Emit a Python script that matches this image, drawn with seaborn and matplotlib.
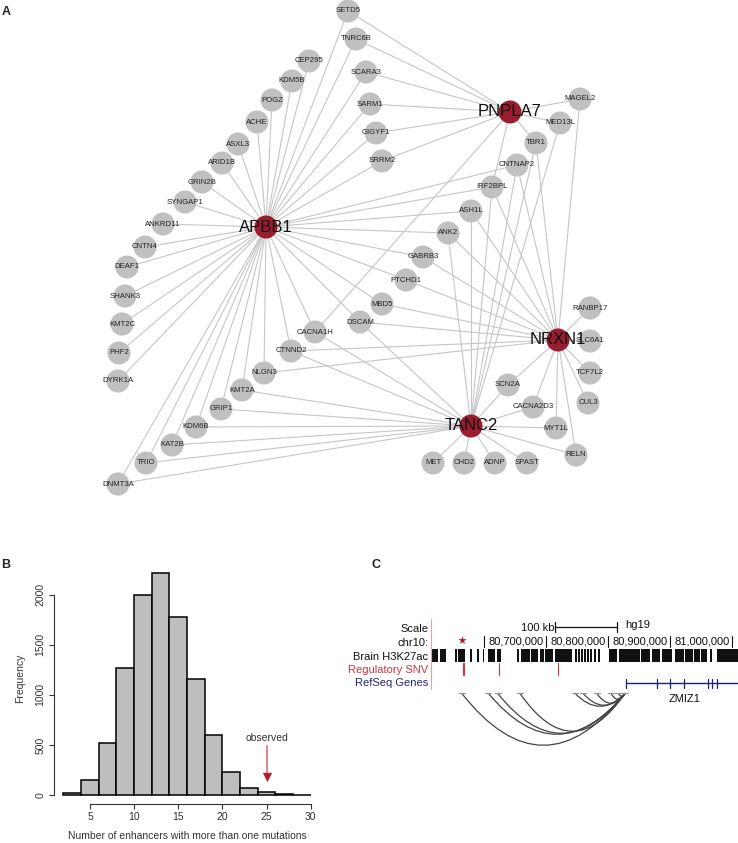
import numpy as np
import pandas as pd
import seaborn as sns
import matplotlib.pyplot as plt
from matplotlib.collections import LineCollection
from matplotlib.path import Path
from matplotlib.patches import PathPatch

W, H = 738, 843

# --- Panel A: Netzwerk (Layout in Pixelkoordinaten) ---
hub_names = ['APBB1', 'PNPLA7', 'NRXN1', 'TANC2']
hub_x = [266, 510, 558, 471]
hub_y = [227, 112, 340, 426]

gene_names = ['SETD5', 'TNRC6B', 'CEP295', 'KDM5B', 'POGZ', 'ACHE', 'ASXL3', 'ARID1B',
              'GRIN2B', 'SYNGAP1', 'ANKRD11', 'CNTN4', 'DEAF1', 'SHANK3', 'KMT2C', 'PHF2',
              'DYRK1A', 'SCARA3', 'SARM1', 'GIGYF1', 'SRRM2', 'MAGEL2', 'MED13L', 'TBR1',
              'CNTNAP2', 'IRF2BPL', 'ASH1L', 'ANK2', 'GABRB3', 'PTCHD1', 'MBD5', 'DSCAM',
              'CACNA1H', 'CTNND2', 'NLGN3', 'KMT2A', 'GRIP1', 'KDM6B', 'KAT2B', 'TRIO',
              'DNMT3A', 'RANBP17', 'SLC6A1', 'TCF7L2', 'CUL3', 'SCN2A', 'CACNA2D3', 'MYT1L',
              'RELN', 'MET', 'CHD2', 'ADNP', 'SPAST']
gene_x = [348, 356, 309, 292, 272, 257, 238, 222, 202, 185, 163, 145, 127, 125, 122, 119,
          118, 366, 370, 376, 382, 580, 560, 536, 517, 492, 471, 448, 423, 406, 382, 360,
          315, 291, 264, 242, 221, 196, 172, 146, 118, 590, 590, 590, 588, 508, 533, 556,
          576, 433, 464, 495, 527]
gene_y = [11, 39, 61, 81, 100, 122, 144, 163, 182, 202, 224, 247, 267, 296, 324, 353,
          381, 72, 104, 133, 161, 99, 123, 143, 165, 187, 211, 233, 257, 280, 304, 322,
          332, 351, 373, 390, 409, 427, 445, 463, 484, 308, 341, 373, 403, 385, 407, 428,
          455, 463, 463, 463, 463]

apbb1_links = ['SETD5', 'TNRC6B', 'CEP295', 'KDM5B', 'POGZ', 'ACHE', 'ASXL3', 'ARID1B',
               'GRIN2B', 'SYNGAP1', 'ANKRD11', 'CNTN4', 'DEAF1', 'SHANK3', 'KMT2C', 'PHF2',
               'DYRK1A', 'SCARA3', 'SARM1', 'GIGYF1', 'SRRM2', 'CNTNAP2', 'IRF2BPL', 'ASH1L',
               'ANK2', 'GABRB3', 'PTCHD1', 'MBD5', 'DSCAM', 'CACNA1H', 'CTNND2', 'NLGN3',
               'KMT2A', 'GRIP1', 'KDM6B', 'KAT2B', 'TRIO', 'DNMT3A']
pnpla7_links = ['SETD5', 'TNRC6B', 'SCARA3', 'SARM1', 'GIGYF1', 'SRRM2', 'MAGEL2', 'MED13L',
                'TBR1', 'IRF2BPL', 'CACNA1H']
nrxn1_links = ['MAGEL2', 'TBR1', 'CNTNAP2', 'IRF2BPL', 'ASH1L', 'ANK2', 'GABRB3', 'PTCHD1',
               'MBD5', 'DSCAM', 'CTNND2', 'NLGN3', 'RANBP17', 'SLC6A1', 'TCF7L2', 'CUL3',
               'SCN2A', 'CACNA2D3', 'MYT1L', 'RELN']
tanc2_links = ['MED13L', 'TBR1', 'CNTNAP2', 'IRF2BPL', 'ASH1L', 'ANK2', 'DSCAM', 'CACNA1H',
               'CTNND2', 'KMT2A', 'GRIP1', 'KDM6B', 'KAT2B', 'TRIO', 'DNMT3A', 'SCN2A',
               'CACNA2D3', 'MYT1L', 'RELN', 'MET', 'CHD2', 'ADNP', 'SPAST']

# --- Panel B: Histogramm ---
bin_edges = [2, 4, 6, 8, 10, 12, 14, 16, 18, 20, 22, 24, 26, 28, 30]
bin_counts = [15, 150, 520, 1273, 2000, 2215, 1777, 1160, 600, 227, 73, 27, 7, 2]
observed = 25

# --- Panel C: Genome Browser (Mb, chr10) ---
chr_ticks = [80.6, 80.7, 80.8, 80.9, 81.0]
chr_tick_labels = ['', '80,700,000', '80,800,000', '80,900,000', '81,000,000']
h3k27ac_start = [80.516, 80.529, 80.553, 80.558, 80.577, 80.588, 80.598, 80.606, 80.621,
                 80.653, 80.660, 80.676, 80.690, 80.699, 80.715, 80.747, 80.752, 80.757,
                 80.762, 80.767, 80.771, 80.778, 80.784, 80.802, 80.818, 80.854, 80.871,
                 80.888, 80.909, 80.925, 80.939, 80.951, 80.965, 80.976]
h3k27ac_end = [80.526, 80.539, 80.556, 80.569, 80.581, 80.592, 80.6005, 80.618, 80.627,
               80.657, 80.674, 80.687, 80.697, 80.711, 80.742, 80.750, 80.755, 80.760,
               80.765, 80.770, 80.774, 80.781, 80.787, 80.815, 80.852, 80.868, 80.884,
               80.904, 80.923, 80.938, 80.949, 80.960, 80.968, 81.010]
snv_pos = [80.5656, 80.5682, 80.6247, 80.7200]
star_pos = 80.5645
zmiz1_start, zmiz1_end = 80.829, 81.010
zmiz1_exons = [80.829, 80.879, 80.900, 80.923, 80.962, 80.968, 80.976]
arc_anchor = [80.564, 80.607, 80.622, 80.658, 80.747, 80.760, 80.782, 80.805, 80.817]
arc_target = 80.828
arc_depth = [52, 41, 40, 38, 13, 12, 10, 6, 3]

sns.set_style('white')
plt.rcParams['font.family'] = ['Liberation Sans', 'DejaVu Sans']

fig = plt.figure(figsize=(W / 100, H / 100), dpi=100)


def px_axes(left, top, right, bottom):
    return fig.add_axes([left / W, 1 - bottom / H, (right - left) / W, (bottom - top) / H])


# ===== A =====
axA = px_axes(0, 0, 738, 520)
nodes = pd.DataFrame({
    'name': hub_names + gene_names,
    'x': hub_x + gene_x,
    'y': hub_y + gene_y,
    'kind': ['hub'] * len(hub_names) + ['gene'] * len(gene_names),
})
pos = nodes.set_index('name')[['x', 'y']]

segments = []
for hub, links in zip(hub_names, [apbb1_links, pnpla7_links, nrxn1_links, tanc2_links]):
    for g in links:
        segments.append([pos.loc[hub].values, pos.loc[g].values])
axA.add_collection(LineCollection(segments, colors='#c6c6c6', linewidths=0.8, zorder=1))

sns.scatterplot(data=nodes, x='x', y='y', hue='kind',
                palette={'hub': '#9b1b2f', 'gene': '#c0c0c0'},
                s=275, linewidth=0, legend=False, ax=axA, zorder=2)

for _, r in nodes.iterrows():
    if r['kind'] == 'hub':
        axA.text(r['x'], r['y'], r['name'], fontsize=12, ha='center', va='center',
                 color='#111111', zorder=3)
    else:
        axA.text(r['x'], r['y'], r['name'], fontsize=5.6, ha='center', va='center',
                 color='#222222', zorder=3)
axA.set_xlim(0, 738)
axA.set_ylim(520, 0)
axA.axis('off')

# ===== B =====
axB = px_axes(53.6, 565, 320.6, 804)
centers = [(a + b) / 2 for a, b in zip(bin_edges[:-1], bin_edges[1:])]
sns.histplot(x=centers, weights=bin_counts, bins=bin_edges, color='#bebebe',
             edgecolor='black', linewidth=1.1, alpha=1, ax=axB)
axB.set_xlim(0.88, 31.12)
axB.set_ylim(-90, 2298)
axB.set_xticks([5, 10, 15, 20, 25, 30])
axB.set_yticks([0, 500, 1000, 1500, 2000])
for s in ['top', 'right']:
    axB.spines[s].set_visible(False)
axB.spines['left'].set_bounds(0, 2000)
axB.spines['bottom'].set_bounds(5, 30)
for s in ['left', 'bottom']:
    axB.spines[s].set_linewidth(0.8)
    axB.spines[s].set_color('#333333')
axB.tick_params(axis='both', direction='out', length=3.6, width=0.8, color='#333333',
                labelsize=7.5, labelcolor='#333333', pad=2.5, left=True, bottom=True)
for lab in axB.get_yticklabels():
    lab.set_rotation(90)
    lab.set_va('center')
axB.set_ylabel('Frequency', fontsize=7.5, color='#333333')
axB.set_xlabel('Number of enhancers with more than one mutations', fontsize=7.5,
               color='#333333')
axB.yaxis.set_label_coords(-0.105, 0.527)
axB.xaxis.set_label_coords(0.5, -0.115)
axB.text(observed, 570, 'observed', fontsize=7.5, ha='center', va='center', color='#333333')
axB.plot([observed, observed], [490, 200], color='#d9707a', lw=1.2)
axB.scatter([observed], [175], marker='v', s=45, color='#b0202e', linewidths=0, zorder=3)

# ===== C =====
x0 = 80.6 + (370 - 484) / 619
x1 = 80.6 + (738 - 484) / 619
axC = px_axes(370, 600, 738, 760)
axC.set_xlim(x0, x1)
axC.set_ylim(760, 600)
axC.axis('off')

lab_x = 80.6 + (428 - 484) / 619
fs = 8
axC.text(lab_x, 629, 'Scale', fontsize=fs, ha='right', va='center', color='#111111')
axC.text(lab_x, 643, 'chr10:', fontsize=fs, ha='right', va='center', color='#111111')
axC.text(lab_x, 656.5, 'Brain H3K27ac', fontsize=fs, ha='right', va='center', color='#111111')
axC.text(lab_x, 670, 'Regulatory SNV', fontsize=fs, ha='right', va='center', color='#d0343c')
axC.text(lab_x, 683, 'RefSeq Genes', fontsize=fs, ha='right', va='center', color='#24247c')
sep_x = 80.6 + (430.7 - 484) / 619
axC.plot([sep_x, sep_x], [619, 689], color='#e9a0a6', lw=0.8)

# Massstab 100 kb
sb0 = 80.7147
axC.plot([sb0, sb0 + 0.1], [627, 627], color='#111111', lw=0.9)
for xx in [sb0, sb0 + 0.1]:
    axC.plot([xx, xx], [622, 632], color='#111111', lw=0.9)
axC.text(sb0 - 0.001, 628, '100 kb', fontsize=fs, ha='right', va='center', color='#111111')
axC.text(sb0 + 0.1 + 0.013, 625, 'hg19', fontsize=fs, ha='left', va='center', color='#111111')

for t, lab in zip(chr_ticks, chr_tick_labels):
    axC.plot([t, t], [636, 647], color='#111111', lw=0.8)
    if lab:
        axC.text(t - 0.003, 642, lab, fontsize=fs, ha='right', va='center', color='#111111')

axC.broken_barh([(a, b - a) for a, b in zip(h3k27ac_start, h3k27ac_end)], (648.5, 13),
                facecolors='#111111', edgecolor='none')
for p in snv_pos:
    axC.plot([p, p], [663, 675], color='#d0343c', lw=0.8)
axC.scatter([star_pos], [640], marker='*', s=40, color='#b0202e', linewidths=0)

axC.plot([zmiz1_start, zmiz1_end], [683, 683], color='#1c1c78', lw=1)
for e in zmiz1_exons:
    axC.plot([e, e], [679, 688], color='#1c1c78', lw=0.9)
axC.text(80.9242, 698.5, 'ZMIZ1', fontsize=fs, ha='center', va='center', color='#111111')

base = 693.3
for a, d in zip(arc_anchor, arc_depth):
    verts = [(a, base), ((a + arc_target) / 2, base + 2 * d), (arc_target, base)]
    path = Path(verts, [Path.MOVETO, Path.CURVE3, Path.CURVE3])
    axC.add_patch(PathPatch(path, facecolor='none', edgecolor='#444444', lw=0.9))
    axC.plot([a - 0.005, a + 0.005], [base, base], color='#999999', lw=0.9)
axC.plot([arc_target - 0.005, arc_target + 0.005], [base, base], color='#999999', lw=0.9)

# Panel-Buchstaben
for letter, px, py in [('A', 6, 12), ('B', 6, 565), ('C', 376, 565)]:
    fig.text(px / W, 1 - py / H, letter, fontsize=9, fontweight='bold', ha='center', va='center')

fig.savefig('out.png', dpi=100)
